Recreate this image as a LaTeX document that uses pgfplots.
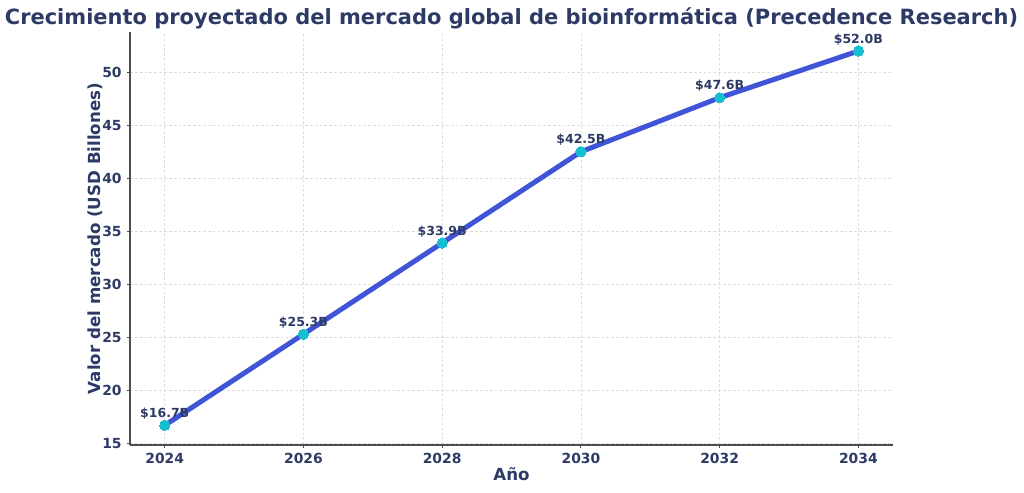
\documentclass[border=0pt]{standalone}
\usepackage{fontspec}
\setmainfont{DejaVu Sans}
\usepackage{pgfplots}
\pgfplotsset{compat=1.18}
\definecolor{navy}{HTML}{2E3A66}
\definecolor{lineblue}{HTML}{4054D8}
\definecolor{dotcyan}{HTML}{17BECF}
\begin{document}
\begin{tikzpicture}
  \node[text=navy,font=\fontsize{15.1}{18}\selectfont\bfseries,inner sep=0pt] at (368.28pt,341.3pt) {Crecimiento proyectado del mercado global de bioinformática (Precedence Research)};
  \begin{axis}[
    at={(93.6pt,33.84pt)}, anchor=south west,
    scale only axis, width=549.4pt, height=297.4pt,
    xmin=2023.5, xmax=2034.5, ymin=14.85, ymax=53.8,
    axis lines*=left,
    axis line style={draw=black!70, line width=0.9pt, -},
    xtick={2024,2026,...,2034}, ytick={15,20,...,50},
    xticklabel style={/pgf/number format/1000 sep={}},
    /pgf/number format/assume math mode=true,
    tick style={draw=black!70, line width=0.7pt},
    tick align=outside, major tick length=2.5pt,
    tick label style={text=navy, font=\fontsize{10}{12}\selectfont\bfseries},
    grid=major,
    major grid style={dash pattern=on 2pt off 1.5pt, draw=black!13, line width=0.4pt},
    xlabel={Año}, ylabel={Valor del mercado (USD Billones)},
    label style={text=navy, font=\fontsize{12}{14}\selectfont\bfseries},
    xlabel style={yshift=4.5pt},
    ylabel style={yshift=-7pt},
    clip=false,
    nodes near coords={\$\pgfmathprintnumber[fixed,fixed zerofill,precision=1]{\pgfplotspointmeta}B},
    every node near coord/.append style={text=navy, font=\fontsize{9}{11}\selectfont\bfseries, yshift=1pt},
  ]
  \addplot[lineblue, line width=3.6pt, mark=*, mark size=3.7pt,
    mark options={draw=dotcyan, fill=dotcyan, line width=0pt}] coordinates {
    (2024,16.7) (2026,25.3) (2028,33.9) (2030,42.5) (2032,47.6) (2034,52.0)
  };
  \end{axis}
  \pgfresetboundingbox
  \path[use as bounding box] (0,0) rectangle (737.28pt,354.24pt);
\end{tikzpicture}
\end{document}
